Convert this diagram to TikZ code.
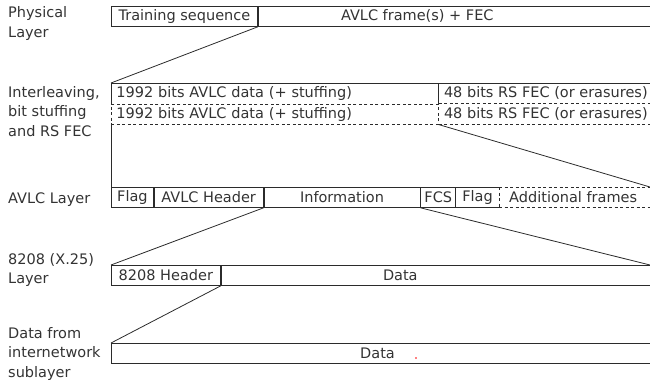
\documentclass[tikz,border=0pt]{standalone}
\usepackage{fontspec}
\setmainfont{DejaVu Sans}
\usepackage{tikz}
\usetikzlibrary{
  positioning,
  calc
}
\definecolor{fmLine}{HTML}{2B2B2B}
\definecolor{fmText}{HTML}{333333}
\newcommand{\fieldfont}{\fontsize{14.5}{18.5}\selectfont}
\newcommand{\layerfont}{\fontsize{14.5}{19.5}\selectfont}
\tikzset{
  field/.style={
    draw=fmLine, line width=0.8pt, minimum height=20pt, inner xsep=2pt, inner ysep=0pt,
    font=\fieldfont, text=fmText
  },
  hollow/.style={field, draw=none},
  dashfield/.style={field, dash pattern=on 3pt off 2.5pt},
  leftfield/.style={field, align=left, inner xsep=5pt, text width=#1},
  celltxt/.style={anchor=west, inner sep=0pt, font=\fieldfont, text=fmText},
  layer/.style={anchor=north west, inner sep=0pt, align=left, font=\layerfont, text=fmText},
  frame/.style={draw=fmLine, line width=0.8pt},
  dashframe/.style={frame, dash pattern=on 3pt off 2.5pt},
  zoomline/.style={draw=fmLine, line width=0.8pt}
}

\begin{document}
\begin{tikzpicture}[x=1pt, y=-1pt, node distance=0pt]
  \clip (0,0) rectangle (650,381);
  % layer names
  \node[layer] (phyL) at (8,6.5) {Physical\\Layer};
  \node[layer] (ilvL) at (8,86) {Interleaving,\\bit stuffing\\and RS FEC};
  \node[layer] (avlcL) at (8,193) {AVLC Layer};
  \node[layer] (x25L) at (8,253) {8208 (X.25)\\Layer};
  \node[layer] (inetL) at (8,327) {Data from\\internetwork\\sublayer};

  % physical layer
  \node[field, minimum width=146pt, anchor=north west] (trn) at (111,6) {Training sequence};
  \node[field, minimum width=440pt, right=of trn] (frm) {};
  \node[celltxt] (frmT) at ([xshift=83pt]frm.west) {AVLC frame(s) + FEC};

  % interleaving, bit stuffing and RS FEC
  \node[hollow, leftfield=317pt, anchor=north west, draw=none] (bits1) at (111,83) {1992 bits AVLC data (+ stuffing)};
  \node[hollow, minimum width=260pt, right=of bits1] (fec1) {};
  \node[celltxt] (fec1T) at ([xshift=5pt]fec1.west) {48 bits RS FEC (or erasures)};
  \draw[frame] (bits1.south west) |- (fec1.north east);
  \draw[frame] (bits1.north east) -- (bits1.south east);
  \node[dashfield, leftfield=317pt, below=of bits1] (bits2) {1992 bits AVLC data (+ stuffing)};
  \node[hollow, minimum width=260pt, right=of bits2] (fec2) {};
  \node[celltxt] (fec2T) at ([xshift=5pt]fec2.west) {48 bits RS FEC (or erasures)};
  \draw[dashframe] (bits2.north east) -- (fec2.north east) (bits2.south east) -- (fec2.south east);

  % AVLC layer
  \node[field, minimum width=42pt, anchor=north west] (flg1) at (111,187) {Flag};
  \node[field, minimum width=109pt, right=of flg1] (hdr) {AVLC Header};
  \node[field, minimum width=156pt, right=of hdr] (inf) {Information};
  \node[field, minimum width=35pt, right=of inf] (fcs) {FCS};
  \node[hollow, minimum width=42pt, right=of fcs] (flg2) {Flag};
  \node[hollow, minimum width=200pt, right=of flg2] (add) {};
  \node[celltxt] (addT) at ([xshift=10pt]add.west) {Additional frames};
  \draw[frame] (flg2.north east) -- (flg2.north west) (flg2.south west) -- (flg2.south east);
  \draw[dashframe] (flg2.north east) -- (flg2.south east);
  \draw[dashframe] (flg2.north east) -- (add.north east) (flg2.south east) -- (add.south east);

  % 8208 layer
  \node[field, minimum width=109pt, anchor=north west] (hd8) at (111,265) {8208 Header};
  \node[field, minimum width=480pt, right=of hd8] (dat8) {};
  \node[celltxt] (dat8T) at ([xshift=162pt]dat8.west) {Data};

  % internetwork data
  \node[field, minimum width=600pt, anchor=north west] (dat) at (111,343) {};
  \node[celltxt] (datT) at ([xshift=249pt]dat.west) {Data};
  \fill[red] (416,358) circle (0.9pt);

  % zoom lines
  \coordinate (avlcEnd) at (650,187);
  \coordinate (x25End) at (650,265);
  \draw[zoomline] (trn.south east) -- (bits1.north west);
  \draw[zoomline] (bits2.south west) -- (flg1.north west);
  \draw[zoomline] (fec2.south west) -- (avlcEnd);
  \draw[zoomline] (hdr.south east) -- (hd8.north west);
  \draw[zoomline] (inf.south east) -- (x25End);
  \draw[zoomline] (hd8.south east) -- (dat.north west);
\end{tikzpicture}
\end{document}
